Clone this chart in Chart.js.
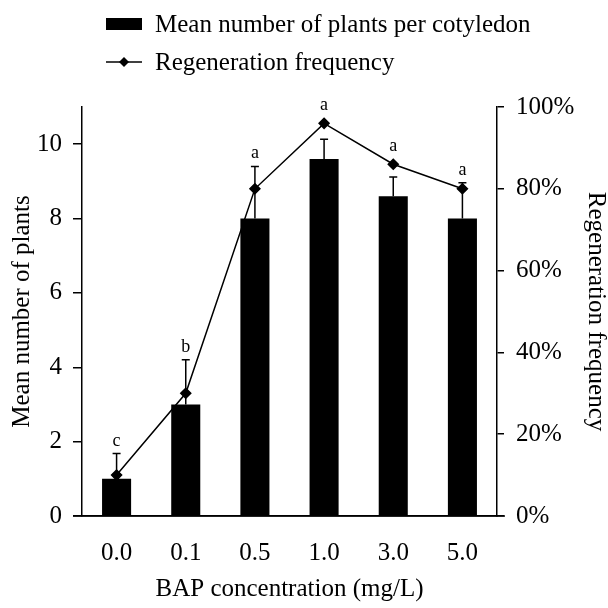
<!DOCTYPE html>
<html>
<head>
<meta charset="utf-8">
<script src="https://cdn.jsdelivr.net/npm/chart.js@4.4.1/dist/chart.umd.min.js"></script>
<style>
  html, body { margin: 0; padding: 0; background: #fff; }
  #wrap { width: 608px; height: 608px; }
</style>
</head>
<body>
<div id="wrap"><canvas id="chart" width="608" height="608"></canvas></div>
<script>
// --- DADOS ---
const categories = ['0.0', '0.1', '0.5', '1.0', '3.0', '5.0'];
const meanPlants = [1.0, 3.0, 8.0, 9.6, 8.6, 8.0];
const plantsSE = [0.68, 1.2, 1.4, 0.53, 0.52, 0.96];
const regenFreq = [0.10, 0.30, 0.80, 0.96, 0.86, 0.80];
const sigLetters = ['c', 'b', 'a', 'a', 'a', 'a'];
const leftTicks = [0, 2, 4, 6, 8, 10];
const rightTicks = [0, 0.2, 0.4, 0.6, 0.8, 1.0];

const FONT = "'Liberation Serif', 'Times New Roman', serif";
const FS = 25;

// error bars + letters + extended x axis line
const extras = {
  id: 'extras',
  afterDatasetsDraw(chart) {
    const { ctx, chartArea } = chart;
    const x = chart.scales.x, y = chart.scales.y, y1 = chart.scales.y1;
    ctx.save();
    ctx.strokeStyle = '#000';
    ctx.lineWidth = 1.5;
    // x axis line runs past both y axes
    ctx.beginPath();
    ctx.moveTo(chartArea.left - 9, chartArea.bottom);
    ctx.lineTo(chartArea.right + 8, chartArea.bottom);
    ctx.stroke();

    ctx.fillStyle = '#000';
    ctx.font = '18px ' + FONT;
    ctx.textAlign = 'center';
    ctx.textBaseline = 'alphabetic';
    categories.forEach((c, i) => {
      const cx = x.getPixelForValue(i);
      const top = y.getPixelForValue(meanPlants[i]);
      const cap = y.getPixelForValue(meanPlants[i] + plantsSE[i]);
      ctx.beginPath();
      ctx.moveTo(cx, top);
      ctx.lineTo(cx, cap);
      ctx.moveTo(cx - 4, cap);
      ctx.lineTo(cx + 4, cap);
      ctx.stroke();
      const pt = y1.getPixelForValue(regenFreq[i]);
      const highest = Math.min(cap, pt - 5);
      ctx.fillText(sigLetters[i], cx, highest - 8);
    });
    ctx.restore();
  },
  afterDraw(chart) {
    const { ctx } = chart;
    ctx.save();
    ctx.fillStyle = '#000';
    ctx.strokeStyle = '#000';
    // legend: bar
    ctx.fillRect(106, 18, 36, 12);
    // legend: line with diamond
    ctx.lineWidth = 1.5;
    ctx.beginPath();
    ctx.moveTo(106, 62);
    ctx.lineTo(142, 62);
    ctx.stroke();
    ctx.beginPath();
    ctx.moveTo(124 - 5, 62);
    ctx.lineTo(124, 57);
    ctx.lineTo(124 + 5, 62);
    ctx.lineTo(124, 67);
    ctx.closePath();
    ctx.fill();
    ctx.font = FS + 'px ' + FONT;
    ctx.textAlign = 'left';
    ctx.textBaseline = 'middle';
    ctx.fillText('Mean number of plants per cotyledon', 155, 25);
    ctx.fillText('Regeneration frequency', 155, 63);
    ctx.restore();
  }
};

const ctx = document.getElementById('chart').getContext('2d');
new Chart(ctx, {
  type: 'bar',
  data: {
    labels: categories,
    datasets: [
      {
        type: 'line',
        label: 'Regeneration frequency',
        data: regenFreq,
        yAxisID: 'y1',
        borderColor: '#000',
        backgroundColor: '#000',
        borderWidth: 1.5,
        pointStyle: 'rectRot',
        pointRadius: 5,
        pointBackgroundColor: '#000',
        tension: 0,
        order: 0
      },
      {
        label: 'Mean number of plants per cotyledon',
        data: meanPlants,
        yAxisID: 'y',
        backgroundColor: '#000',
        borderWidth: 0,
        categoryPercentage: 1,
        barPercentage: 0.42,
        order: 1
      }
    ]
  },
  options: {
    responsive: false,
    animation: false,
    layout: { padding: { top: 107, left: 0, right: 0, bottom: 0 } },
    plugins: { legend: { display: false }, tooltip: { enabled: false } },
    scales: {
      x: {
        grid: { display: false },
        border: { display: true, color: '#000', width: 1.5 },
        ticks: { color: '#000', font: { family: FONT, size: FS }, padding: 14 },
        title: {
          display: true, text: 'BAP concentration (mg/L)', color: '#000',
          font: { family: FONT, size: FS }, padding: { top: 8, bottom: 4 }
        },
        afterFit(s) { s.height = 92; }
      },
      y: {
        position: 'left',
        min: 0, max: 11,
        afterBuildTicks(s) { s.ticks = leftTicks.map(v => ({ value: v })); },
        grid: { drawOnChartArea: false, drawTicks: true, tickLength: 9, color: '#000', lineWidth: 1.5 },
        border: { display: true, color: '#000', width: 1.5 },
        ticks: { color: '#000', font: { family: FONT, size: FS }, padding: 11 },
        title: {
          display: true, text: 'Mean number of plants', color: '#000',
          font: { family: FONT, size: FS, lineHeight: 1 }, padding: { top: 10, bottom: 0 }
        },
        afterFit(s) { s.width = 82; }
      },
      y1: {
        position: 'right',
        min: 0, max: 1,
        afterBuildTicks(s) { s.ticks = rightTicks.map(v => ({ value: v })); },
        grid: { drawOnChartArea: false, drawTicks: true, tickLength: 7, color: '#000', lineWidth: 1.5 },
        border: { display: true, color: '#000', width: 1.5 },
        ticks: {
          color: '#000', font: { family: FONT, size: FS }, padding: 12,
          callback: v => Math.round(v * 100) + '%'
        },
        title: {
          display: true, text: 'Regeneration frequency', color: '#000',
          font: { family: FONT, size: FS, lineHeight: 1 }, padding: { top: 0, bottom: 0 }
        },
        afterFit(s) { s.width = 111; }
      }
    }
  },
  plugins: [extras]
});
</script>
</body>
</html>
